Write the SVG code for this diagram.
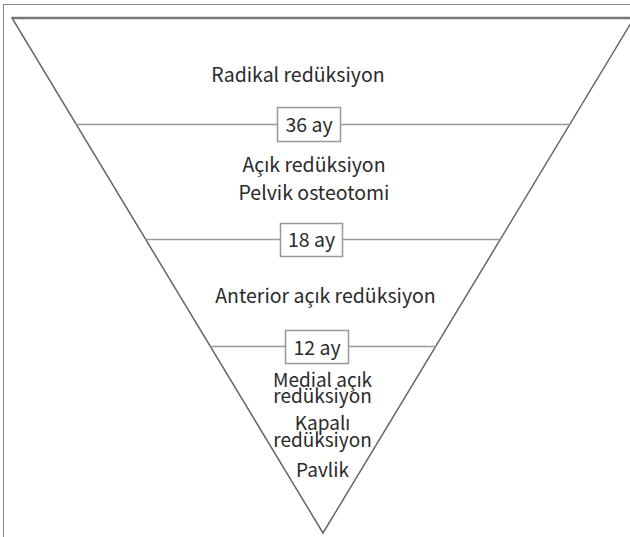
<svg xmlns="http://www.w3.org/2000/svg" width="630" height="537" viewBox="0 0 630 537">
<style>
.t{font-family:"Noto Sans CJK SC","Source Sans Pro","Noto Sans",sans-serif;font-size:19.5px;fill:#2a2a2a;text-anchor:middle}
.tl{font-family:"Noto Sans CJK SC","Source Sans Pro","Noto Sans",sans-serif;font-size:19px;fill:#2a2a2a;text-anchor:middle}
.sep{stroke:#999;stroke-width:1.5;fill:none}
.box{fill:#fff;stroke:#999;stroke-width:1.5}
</style>
<rect x="3.5" y="4.5" width="700" height="600" fill="#fff" stroke="#888" stroke-width="1"/>
<g id="funnel">
<polygon points="12,18 634,18 323,533" fill="#fff" stroke="#666" stroke-width="1.5"/>
<line x1="12" y1="18" x2="634" y2="18" stroke="#777" stroke-width="2.5"/>
</g>
<g id="connectors">
<line class="sep" x1="76" y1="124.5" x2="570" y2="124.5"/>
<line class="sep" x1="145.5" y1="239.5" x2="500.5" y2="239.5"/>
<line class="sep" x1="210" y1="346.5" x2="436" y2="346.5"/>
</g>
<g id="zone1"><text class="t" x="298" y="82">Radikal redüksiyon</text></g>
<g id="b36"><rect class="box" x="277.5" y="107.5" width="63" height="34"/><text class="t" x="309" y="132">36 ay</text></g>
<g id="zone2"><text class="t" x="314" y="172">Açık redüksiyon</text><text class="t" x="314" y="200">Pelvik osteotomi</text></g>
<g id="b18"><rect class="box" x="280.5" y="223.5" width="62" height="33"/><text class="t" x="311.5" y="247">18 ay</text></g>
<g id="zone3"><text class="t" x="325.5" y="303">Anterior açık redüksiyon</text></g>
<g id="b12"><rect class="box" x="285.5" y="330.5" width="63" height="33"/><text class="t" x="317" y="355">12 ay</text></g>
<g id="zone4">
<text class="tl" x="322.5" y="387">Medial açık</text>
<text class="tl" x="322.5" y="403">redüksiyon</text>
<text class="tl" x="322.5" y="430">Kapalı</text>
<text class="tl" x="322.5" y="447">redüksiyon</text>
<text class="tl" x="322.5" y="477">Pavlik</text>
</g>
</svg>
